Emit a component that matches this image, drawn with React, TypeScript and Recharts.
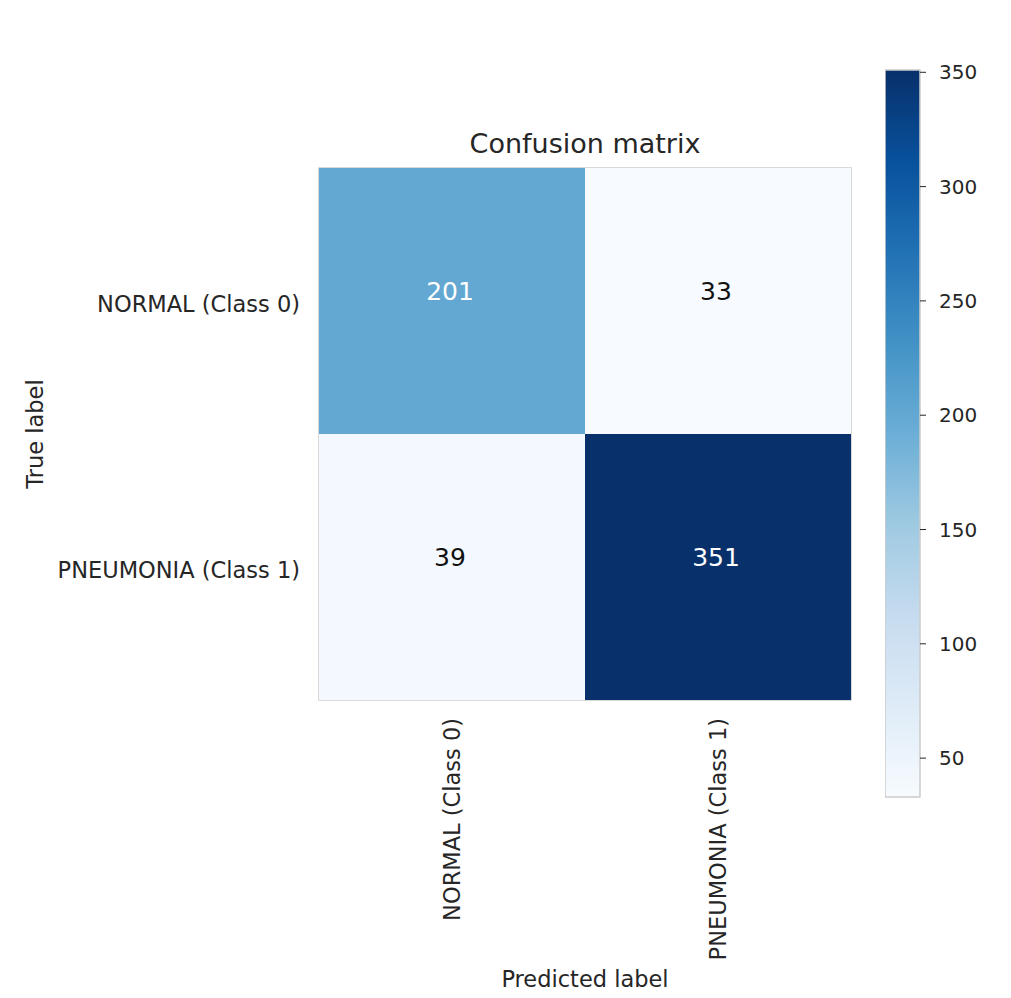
import { BarChart, Bar, XAxis, YAxis, Cell, LabelList, ReferenceArea } from 'recharts'

const rowLabels = ['NORMAL (Class 0)', 'PNEUMONIA (Class 1)']
const colLabels = ['NORMAL (Class 0)', 'PNEUMONIA (Class 1)']
// counts per true row, predicted as column 0 / column 1
const predNormal = [201, 39]
const predPneumonia = [33, 351]
const colorbarTicks = [50, 100, 150, 200, 250, 300, 350]

const BLUES = ['#f7fbff', '#deebf7', '#c6dbef', '#9ecae1', '#6baed6', '#4292c6', '#2171b5', '#08519c', '#08306b']
const INK = '#262626'
const FONT = '"DejaVu Sans", sans-serif'

const allCounts = [...predNormal, ...predPneumonia]
const vmin = Math.min(...allCounts)
const vmax = Math.max(...allCounts)

function hexToRgb(h: string) {
  const n = parseInt(h.slice(1), 16)
  return [(n >> 16) & 255, (n >> 8) & 255, n & 255]
}

function blues(v: number) {
  const t = Math.max(0, Math.min(1, (v - vmin) / (vmax - vmin)))
  const pos = t * (BLUES.length - 1)
  const i = Math.min(Math.floor(pos), BLUES.length - 2)
  const f = pos - i
  const a = hexToRgb(BLUES[i])
  const b = hexToRgb(BLUES[i + 1])
  const c = a.map((x, k) => Math.round(x + (b[k] - x) * f))
  return `rgb(${c[0]},${c[1]},${c[2]})`
}

const rows = rowLabels.map((row, i) => ({
  row,
  c0: 1,
  c1: 1,
  n0: predNormal[i],
  n1: predPneumonia[i],
}))

const cbData = [{ name: 'cb', range: [vmin, vmax] }]

function CellValue(props: any) {
  const { x, y, width, height, value } = props
  const white = value > vmax / 2
  return (
    <text
      x={x + width / 2 - 2}
      y={y + height / 2 - 10}
      textAnchor="middle"
      dominantBaseline="central"
      fontSize={25}
      fontFamily={FONT}
      fill={white ? '#ffffff' : '#111111'}
    >
      {value}
    </text>
  )
}

function XTick(props: any) {
  const { x, y, payload } = props
  const label = colLabels[Math.floor(payload.value)]
  return (
    <text
      x={x}
      y={y + 18}
      transform={`rotate(-90, ${x}, ${y + 18})`}
      textAnchor="end"
      dominantBaseline="central"
      fontSize={22.5}
      fontFamily={FONT}
      fill={INK}
    >
      {label}
    </text>
  )
}

function YTick(props: any) {
  const { x, y, payload } = props
  return (
    <text x={x} y={y + 3} textAnchor="end" dominantBaseline="central" fontSize={22.5} fontFamily={FONT} fill={INK}>
      {payload.value}
    </text>
  )
}

export default function App() {
  return (
    <div style={{ position: 'absolute', left: 0, top: 0, width: 1011, height: 998, background: '#fff', fontFamily: FONT }}>
      <div
        style={{
          position: 'absolute',
          left: 319,
          width: 532,
          top: 128,
          textAlign: 'center',
          fontSize: 27,
          color: INK,
          lineHeight: '32px',
        }}
      >
        Confusion matrix
      </div>
      <div style={{ position: 'absolute', left: 0, top: 0 }}>
        <BarChart
          width={870}
          height={998}
          layout="vertical"
          data={rows}
          margin={{ top: 168, right: 19, bottom: 0, left: 19 }}
          barCategoryGap={0}
          barGap={0}
        >
          <XAxis
            type="number"
            domain={[0, 2]}
            ticks={[0.5, 1.5]}
            height={298}
            axisLine={false}
            tickLine={false}
            tickSize={0}
            tickMargin={0}
            tick={<XTick />}
            label={{ value: 'Predicted label', position: 'insideBottom', offset: 11, fill: INK, fontSize: 22.5, fontFamily: FONT }}
          />
          <YAxis
            type="category"
            dataKey="row"
            width={300}
            axisLine={false}
            tickLine={false}
            tickSize={0}
            tickMargin={19}
            tick={<YTick />}
            label={{ value: 'True label', angle: -90, position: 'insideLeft', offset: 16, fill: INK, fontSize: 22.5, fontFamily: FONT, style: { textAnchor: 'middle' } }}
          />
          <Bar dataKey="c0" stackId="cells" isAnimationActive={false}>
            {rows.map((r) => (
              <Cell key={r.row} fill={blues(r.n0)} />
            ))}
            <LabelList dataKey="n0" content={<CellValue />} />
          </Bar>
          <Bar dataKey="c1" stackId="cells" isAnimationActive={false}>
            {rows.map((r) => (
              <Cell key={r.row} fill={blues(r.n1)} />
            ))}
            <LabelList dataKey="n1" content={<CellValue />} />
          </Bar>
          <ReferenceArea x1={0} x2={2} fill="none" stroke="#cccccc" strokeWidth={1.5} ifOverflow="visible" />
        </BarChart>
      </div>
      <div style={{ position: 'absolute', left: 885, top: 0 }}>
        <BarChart width={126} height={998} data={cbData} margin={{ top: 70, right: 31, bottom: 201, left: 0 }} barCategoryGap={0}>
          <defs>
            <linearGradient id="cbGrad" x1="0" y1="1" x2="0" y2="0">
              {BLUES.map((c, i) => (
                <stop key={c} offset={`${(i / (BLUES.length - 1)) * 100}%`} stopColor={c} />
              ))}
            </linearGradient>
          </defs>
          <XAxis dataKey="name" hide />
          <YAxis
            orientation="right"
            type="number"
            domain={[vmin, vmax]}
            ticks={colorbarTicks}
            width={60}
            axisLine={false}
            tickSize={6}
            tickMargin={13}
            tickLine={{ stroke: INK }}
            tick={{ fill: INK, fontSize: 20, fontFamily: FONT }}
          />
          <Bar dataKey="range" fill="url(#cbGrad)" stroke="#cccccc" strokeWidth={1.5} isAnimationActive={false} />
        </BarChart>
      </div>
    </div>
  )
}
